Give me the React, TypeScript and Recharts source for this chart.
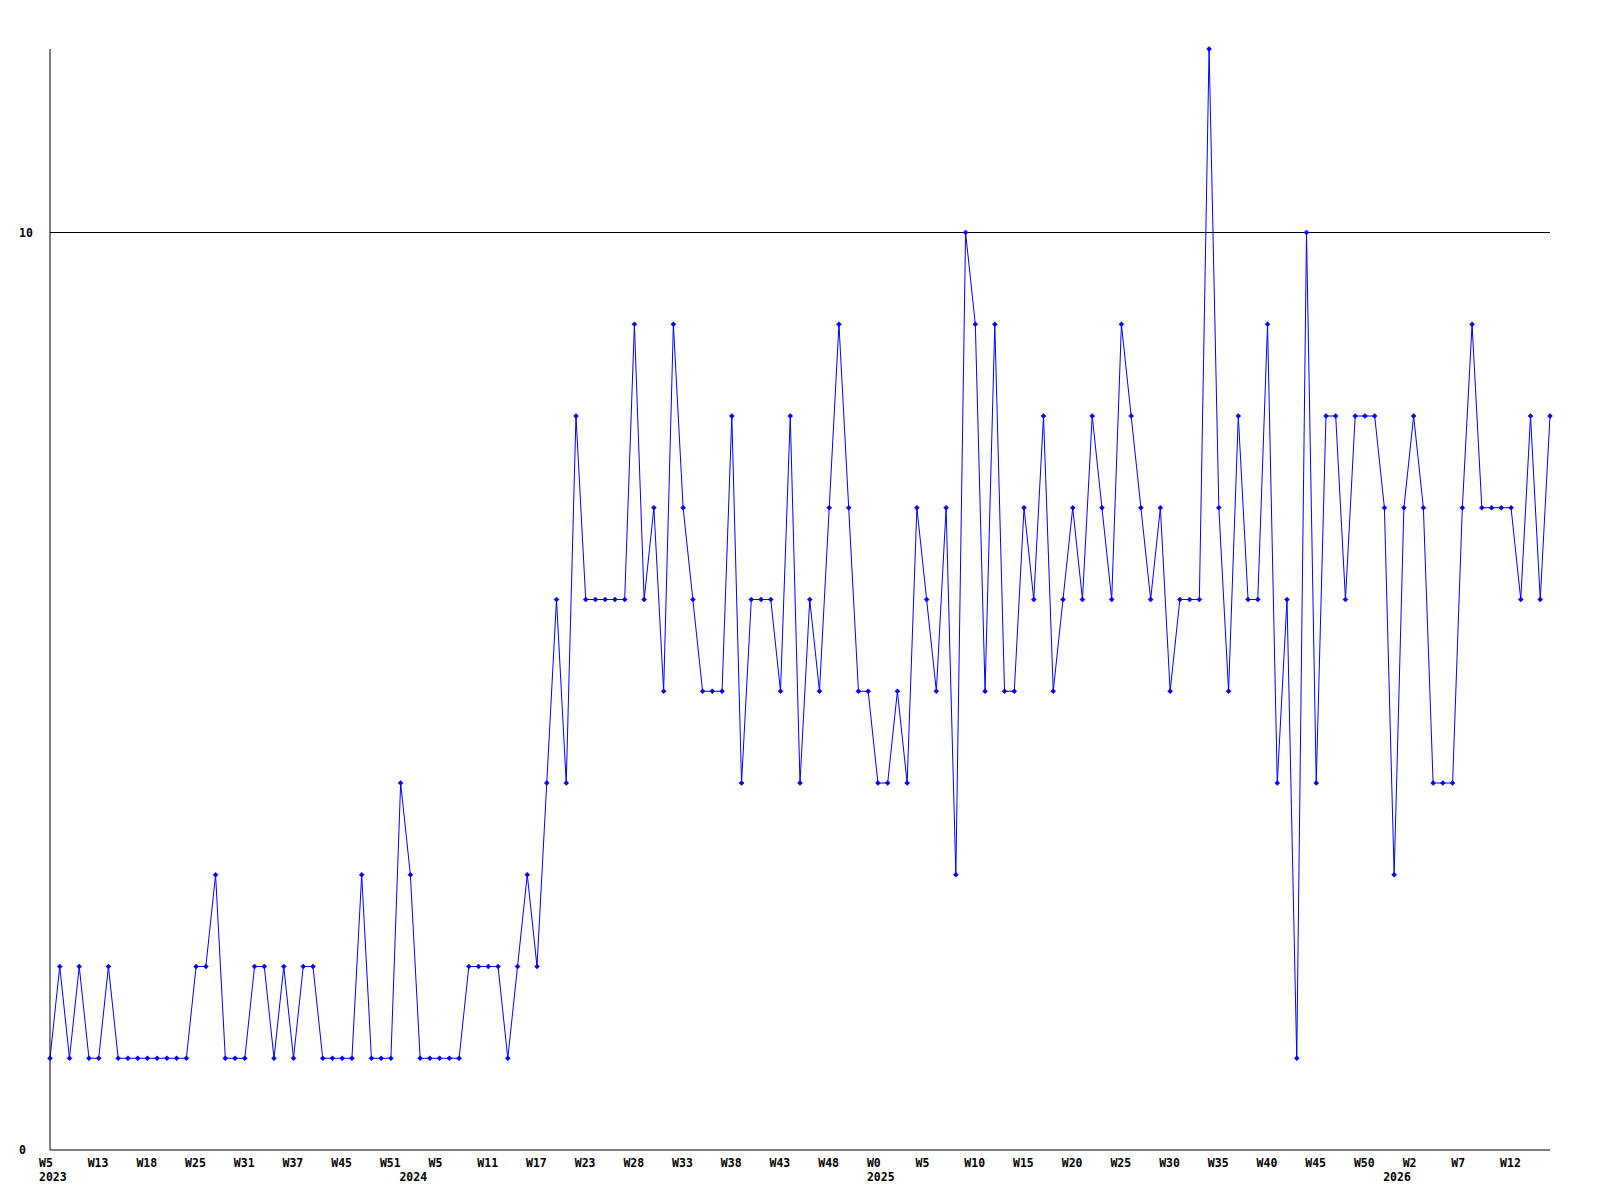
import React from "react";
import { LineChart, Line, XAxis, YAxis, ReferenceLine } from "recharts";

// weekly counts, one per point
const values = [
  1, 2, 1, 2, 1, 1, 2, 1, 1, 1,
  1, 1, 1, 1, 1, 2, 2, 3, 1, 1,
  1, 2, 2, 1, 2, 1, 2, 2, 1, 1,
  1, 1, 3, 1, 1, 1, 4, 3, 1, 1,
  1, 1, 1, 2, 2, 2, 2, 1, 2, 3,
  2, 4, 6, 4, 8, 6, 6, 6, 6, 6,
  9, 6, 7, 5, 9, 7, 6, 5, 5, 5,
  8, 4, 6, 6, 6, 5, 8, 4, 6, 5,
  7, 9, 7, 5, 5, 4, 4, 5, 4, 7,
  6, 5, 7, 3, 10, 9, 5, 9, 5, 5,
  7, 6, 8, 5, 6, 7, 6, 8, 7, 6,
  9, 8, 7, 6, 7, 5, 6, 6, 6, 12,
  7, 5, 8, 6, 6, 9, 4, 6, 1, 10,
  4, 8, 8, 6, 8, 8, 8, 7, 3, 7,
  8, 7, 4, 4, 4, 7, 9, 7, 7, 7,
  7, 6, 8, 6, 8,
];

// a week label on every 5th point
const weekLabels = [
  "W5", "W13", "W18", "W25", "W31", "W37", "W45", "W51",
  "W5", "W11", "W17", "W23", "W28", "W33", "W38", "W43", "W48",
  "W0", "W5", "W10", "W15", "W20", "W25", "W30", "W35", "W40", "W45", "W50",
  "W2", "W7", "W12",
];
const labelStep = 5;

const years = ["2023", "2024", "2025", "2026"];
const yearStart = [0, 37, 85, 138];

const yTicks = [0, 10];
const yMax = 12;

const data = values.map((v, i) => ({ i, v }));
const allTicks = data.map((d) => d.i);

const FONT = "'DejaVu Sans Mono', monospace";

const WeekTick = (props: any) => {
  const { x, y, payload } = props;
  const i = payload.value as number;
  const week = i % labelStep === 0 ? weekLabels[i / labelStep] : null;
  const yi = yearStart.indexOf(i);
  return (
    <g>
      {week && (
        <text x={x - 11} y={y + 17} textAnchor="start" fontFamily={FONT} fontWeight="bold" fontSize={11.5} fill="#000">
          {week}
        </text>
      )}
      {yi >= 0 && (
        <text x={x - 11} y={y + 31} textAnchor="start" fontFamily={FONT} fontWeight="bold" fontSize={11.5} fill="#000">
          {years[yi]}
        </text>
      )}
    </g>
  );
};

const ValueTick = (props: any) => {
  const { x, y, payload } = props;
  return (
    <text x={x - 31} y={y + 4} textAnchor="start" fontFamily={FONT} fontWeight="bold" fontSize={11.5} fill="#000">
      {payload.value}
    </text>
  );
};

const Marker = (props: any) => {
  const { cx, cy } = props;
  if (cx == null || cy == null) return null;
  return (
    <polygon
      points={`${cx},${cy - 2.5} ${cx + 2.5},${cy} ${cx},${cy + 2.5} ${cx - 2.5},${cy}`}
      fill="#0000ff"
      stroke="#0000ff"
      strokeWidth={0.5}
    />
  );
};

export default function App() {
  return (
    <div style={{ position: "absolute", left: 0, top: 0, width: 1600, height: 1200, background: "#fff" }}>
      <LineChart width={1600} height={1200} data={data} margin={{ top: 49, right: 50, bottom: 0, left: 0 }}>
        <XAxis
          dataKey="i"
          type="number"
          domain={[0, values.length - 1]}
          ticks={allTicks}
          interval={0}
          height={50}
          tickLine={false}
          tickSize={0}
          tickMargin={0}
          axisLine={{ stroke: "#000" }}
          tick={<WeekTick />}
        />
        <YAxis
          type="number"
          domain={[0, yMax]}
          ticks={yTicks}
          width={50}
          tickLine={false}
          tickSize={0}
          tickMargin={0}
          axisLine={{ stroke: "#000" }}
          tick={<ValueTick />}
        />
        <ReferenceLine y={10} stroke="#000" />
        <Line
          type="linear"
          dataKey="v"
          stroke="#0000ff"
          strokeWidth={1}
          dot={<Marker />}
          activeDot={false}
          isAnimationActive={false}
        />
      </LineChart>
    </div>
  );
}
